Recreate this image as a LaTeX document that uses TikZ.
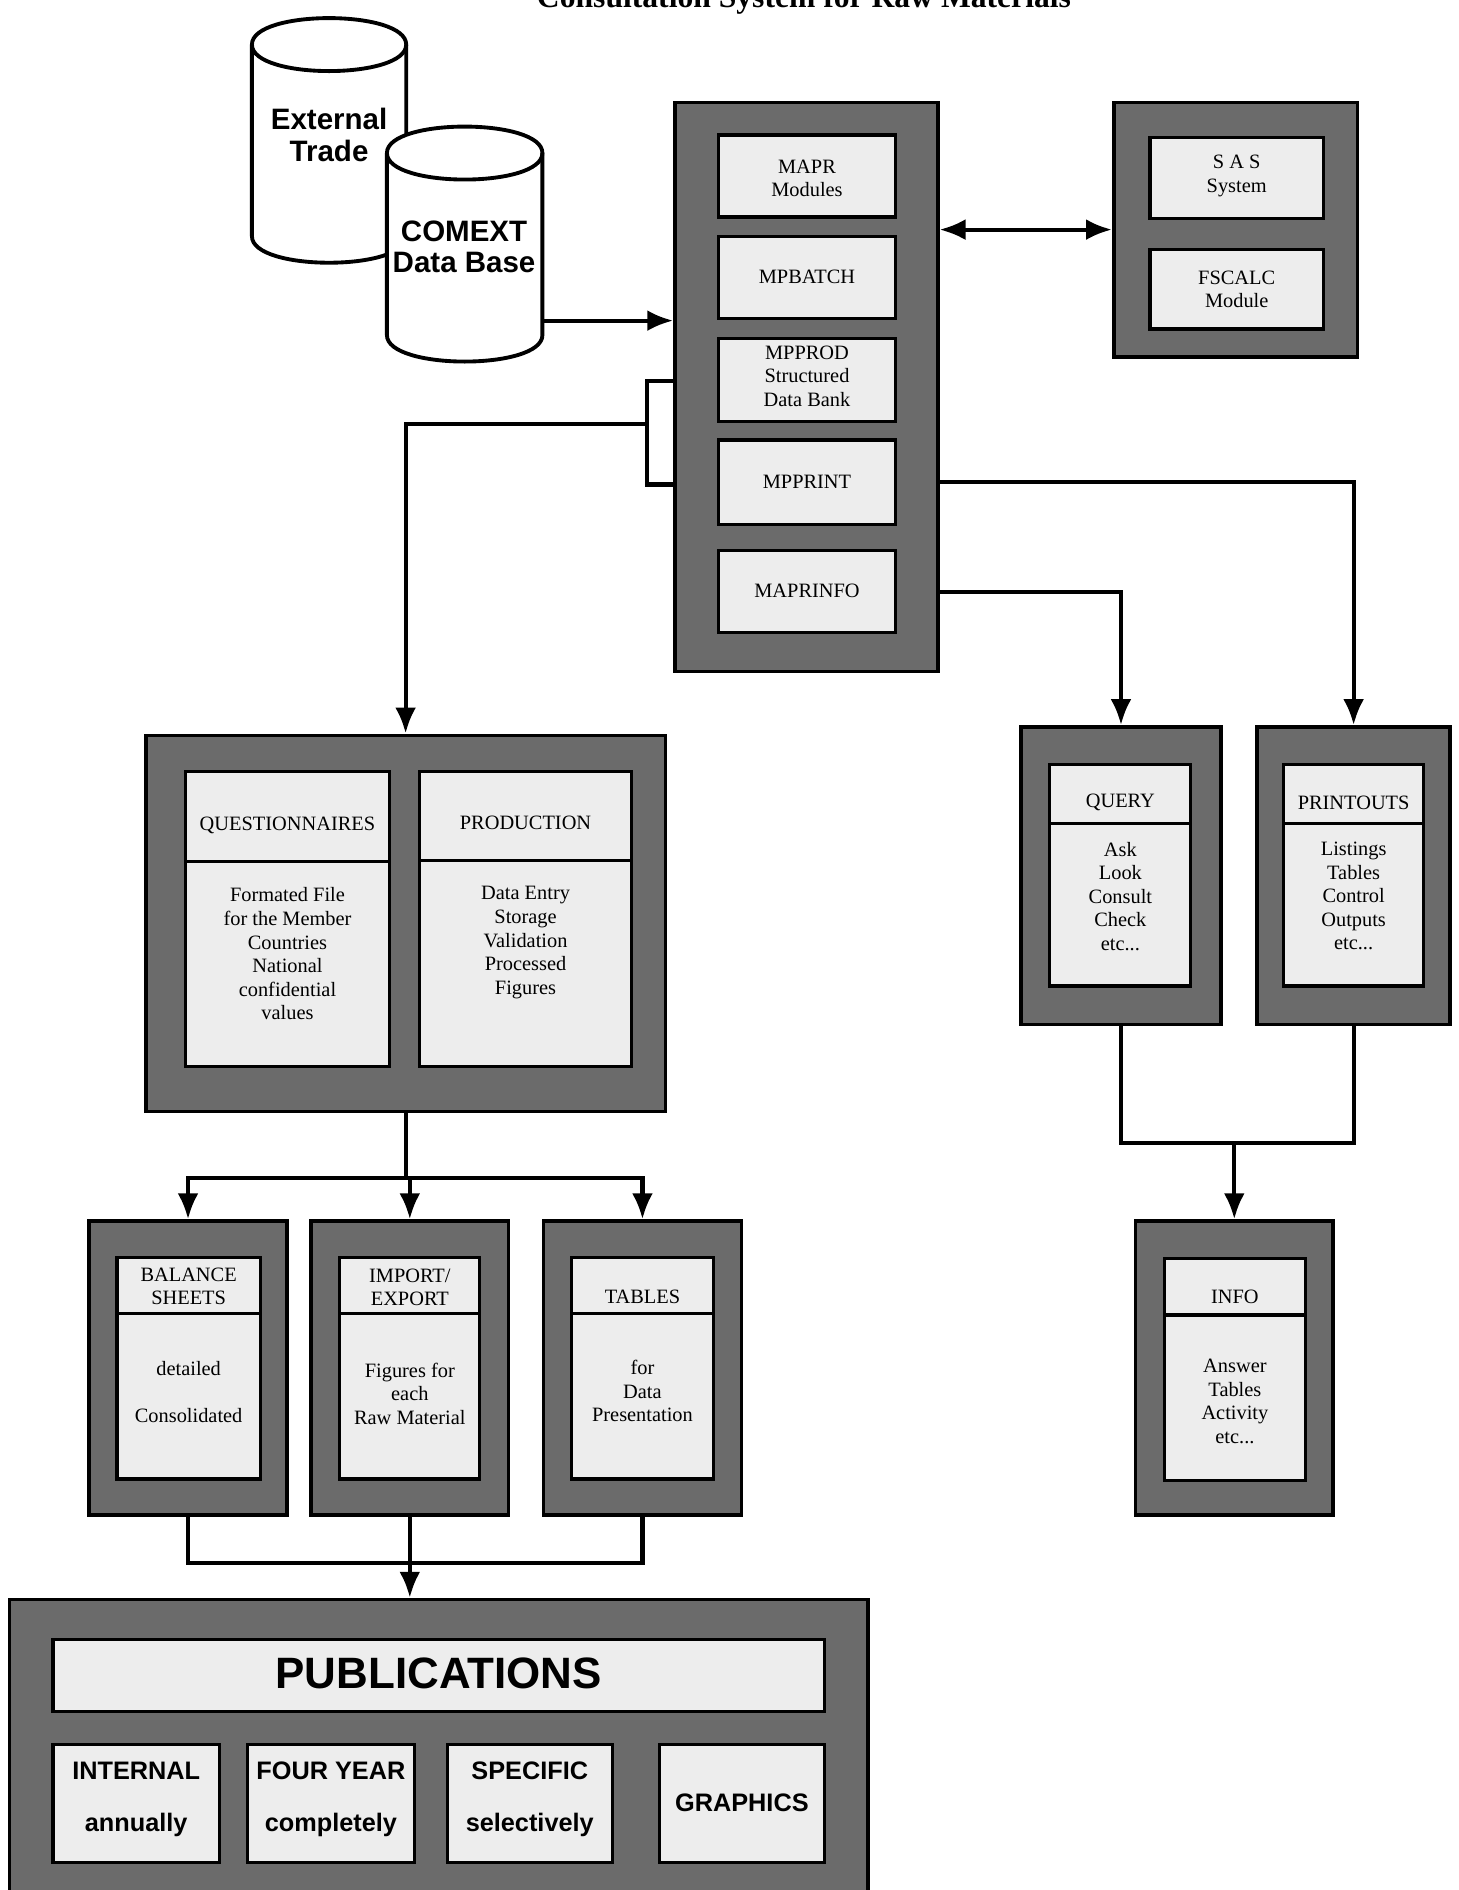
\documentclass[tikz,border=0pt]{standalone}
\usepackage{fontspec}
\setmainfont{Liberation Serif}
\setsansfont{Liberation Sans}
\usetikzlibrary{arrows.meta, fit, positioning}

\newcommand{\boxfont}{\fontsize{5.8}{6.7}\selectfont}
\newcommand{\dbfont}{\sffamily\bfseries\fontsize{8.4}{8.9}\selectfont}
\newcommand{\pubfont}{\sffamily\bfseries\fontsize{7.2}{8}\selectfont}

\tikzset{
  >={Latex[length=2.6mm,width=2.1mm]},
  shellbox/.style={draw=black, line width=1pt, fill=black!58, inner sep=0pt},
  panelbox/.style={draw=black, line width=0.9pt, fill=black!7, inner sep=0pt},
  txt/.style={font=\boxfont, align=center, inner sep=0pt},
  dbtxt/.style={font=\dbfont, align=center, inner sep=0pt},
  pubtxt/.style={font=\pubfont, align=center, inner sep=0pt},
  wire/.style={line width=1.2pt},
  flow/.style={wire, ->},
  dbcyl/.style={draw=black, line width=1.1pt, fill=white},
}

\begin{document}
\begin{tikzpicture}[x=0.12058mm, y=-0.12058mm]
\useasboundingbox (0,0) rectangle (1210,1568);
\fill[white] (0,0) rectangle (1210,1568);

% Title (cut by the top edge)
\node[anchor=base, font=\bfseries\fontsize{9}{10}\selectfont, inner sep=0pt] (title) at (667,6) {Consultation System for Raw Materials};

% Data bases
\filldraw[dbcyl] (209,37) -- (209,196) .. controls (209,225.3) and (337,225.3) .. (337,196) -- (337,37) .. controls (337,7.7) and (209,7.7) .. (209,37) -- cycle;
\draw[dbcyl, fill=none] (209,37) .. controls (209,66.3) and (337,66.3) .. (337,37);
\node[dbtxt] (extdb) at (273,112) {External\\Trade};

\filldraw[dbcyl] (321,127) -- (321,278) .. controls (321,307.3) and (450,307.3) .. (450,278) -- (450,127) .. controls (450,97.7) and (321,97.7) .. (321,127) -- cycle;
\draw[dbcyl, fill=none] (321,127) .. controls (321,156.3) and (450,156.3) .. (450,127);
\node[dbtxt] (comext) at (385,205) {COMEXT\\Data Base};
\coordinate (comextport) at (450,266);

% MAPR column
\node[shellbox, fit={(560,85) (778,557)}] (mapr) {};
\node[panelbox, fit={(596,112) (743,180)}] (modules) {};
\node[txt] (moduleslabel) at (669.5,148) {MAPR\\Modules};
\node[panelbox, fit={(596,196) (743,264)}] (mpbatch) {};
\node[txt] (mpbatchlabel) at (669.5,230) {MPBATCH};
\node[panelbox, fit={(596,281) (743,350)}] (mpprod) {};
\node[txt] (mpprodlabel) at (669.5,312) {MPPROD\\Structured\\Data Bank};
\node[panelbox, fit={(596,365) (743,435)}] (mpprint) {};
\node[txt] (mpprintlabel) at (669.5,400) {MPPRINT};
\node[panelbox, fit={(596,457) (743,525)}] (maprinfo) {};
\node[txt] (maprinfolabel) at (669.5,490) {MAPRINFO};

% SAS block
\node[shellbox, fit={(924,85) (1126,296)}] (sasframe) {};
\node[panelbox, fit={(954,114) (1098,181)}] (sas) {};
\node[txt] (saslabel) at (1026,146) {S A S\\System};
\node[panelbox, fit={(954,207) (1098,273)}] (fscalc) {};
\node[txt] (fscalclabel) at (1026,240) {FSCALC\\Module};

% Questionnaires / production
\node[shellbox, fit={(121,610) (552,922)}] (qp) {};
\node[panelbox, fit={(154,640) (323,715)}] (questhead) {};
\node[panelbox, fit={(154,715) (323,885)}] (questbody) {};
\node[txt] (questtitle) at (238.5,685) {QUESTIONNAIRES};
\node[txt, anchor=north] (questtext) at (238.5,736) {Formated File\\for the Member\\Countries\\National\\confidential\\values};
\node[panelbox, fit={(348,640) (524,714)}] (prodhead) {};
\node[panelbox, fit={(348,714) (524,885)}] (prodbody) {};
\node[txt] (prodtitle) at (436,683) {PRODUCTION};
\node[txt, anchor=north] (prodtext) at (436,735) {Data Entry\\Storage\\Validation\\Processed\\Figures};

% Query / printouts
\node[shellbox, fit={(847,603) (1013,850)}] (query) {};
\node[panelbox, fit={(871,634) (988,683)}] (queryhead) {};
\node[panelbox, fit={(871,683) (988,818)}] (querybody) {};
\node[txt] (querytitle) at (929.5,666) {QUERY};
\node[txt, anchor=north] (querytext) at (929.5,698) {Ask\\Look\\Consult\\Check\\etc...};
\node[shellbox, fit={(1043,603) (1203,850)}] (printouts) {};
\node[panelbox, fit={(1065,634) (1181,683)}] (printhead) {};
\node[panelbox, fit={(1065,683) (1181,818)}] (printbody) {};
\node[txt] (printtitle) at (1123,666) {PRINTOUTS};
\node[txt, anchor=north] (printtext) at (1123,698) {Listings\\Tables\\Control\\Outputs\\etc...};

% Info
\node[shellbox, fit={(942,1013) (1106,1257)}] (info) {};
\node[panelbox, fit={(966,1044) (1083,1091)}] (infohead) {};
\node[panelbox, fit={(966,1091) (1083,1228)}] (infobody) {};
\node[txt] (infotitle) at (1024.5,1076) {INFO};
\node[txt, anchor=north] (infotext) at (1024.5,1127) {Answer\\Tables\\Activity\\etc...};

% Balance sheets, import/export, tables
\node[shellbox, fit={(74,1013) (238,1257)}] (bal) {};
\node[panelbox, fit={(97,1043) (216,1090)}] (balhead) {};
\node[panelbox, fit={(97,1090) (216,1227)}] (balbody) {};
\node[txt] (baltitle) at (156.5,1067) {BALANCE\\SHEETS};
\node[txt, anchor=north] (baltext) at (156.5,1129) {detailed\\[6.7pt]Consolidated};

\node[shellbox, fit={(258,1013) (422,1257)}] (impexp) {};
\node[panelbox, fit={(282,1043) (398,1090)}] (impexphead) {};
\node[panelbox, fit={(282,1090) (398,1227)}] (impexpbody) {};
\node[txt] (impexptitle) at (340,1068) {IMPORT/\\EXPORT};
\node[txt, anchor=north] (impexptext) at (340,1130) {Figures for\\each\\Raw Material};

\node[shellbox, fit={(451,1013) (615,1257)}] (tables) {};
\node[panelbox, fit={(474,1043) (592,1090)}] (tableshead) {};
\node[panelbox, fit={(474,1090) (592,1227)}] (tablesbody) {};
\node[txt] (tablestitle) at (533,1076) {TABLES};
\node[txt, anchor=north] (tablestext) at (533,1128) {for\\Data\\Presentation};

% Publications (runs past the bottom edge)
\node[shellbox, fit={(8,1327) (720,1600)}] (pub) {};
\node[panelbox, fit={(44,1360) (684,1420)}] (pubtitle) {};
\node[font=\sffamily\bfseries\fontsize{12.5}{14}\selectfont, inner sep=0pt] (pubtitlelabel) at (364,1388) {PUBLICATIONS};
\node[panelbox, fit={(44,1447) (182,1545)}] (internal) {};
\node[pubtxt] (internalname) at (113,1469) {INTERNAL};
\node[pubtxt] (internalnote) at (113,1514) {annually};
\node[panelbox, fit={(205,1447) (344,1545)}] (fouryear) {};
\node[pubtxt] (fouryearname) at (274.5,1469) {FOUR YEAR};
\node[pubtxt] (fouryearnote) at (274.5,1514) {completely};
\node[panelbox, fit={(371,1447) (508,1545)}] (specific) {};
\node[pubtxt] (specificname) at (439.5,1469) {SPECIFIC};
\node[pubtxt] (specificnote) at (439.5,1514) {selectively};
\node[panelbox, fit={(547,1447) (684,1545)}] (graphics) {};
\node[pubtxt] (graphicsname) at (615.5,1496) {GRAPHICS};

% Connectors
\draw[flow] (comextport) -- (comextport -| mapr.west);
\draw[flow, <->] (mapr.east |- sasframe.west) -- (sasframe.west);

\coordinate (brtop) at (537,316);
\coordinate (brbot) at (537,402);
\coordinate (brmid) at (537,352);
\draw[wire] (brtop -| mapr.west) -- (brtop) -- (brbot) -- (brbot -| mapr.west);
\draw[flow] (brmid) -| (qp.north);

\draw[flow] (mpprint.east -| mapr.east) -| (printouts.north);
\draw[flow] (maprinfo.east -| mapr.east) -| (query.north);

\path (qp.south) ++(0,54) coordinate (qpsplit);
\draw[wire] (qp.south) -- (qpsplit);
\draw[flow] (qpsplit) -| (bal.north);
\draw[flow] (qpsplit) -| (tables.north);
\draw[flow] (qpsplit -| impexp.north) -- (impexp.north);

\path (bal.south) ++(0,38) coordinate (balmerge);
\draw[wire] (bal.south) |- (tables.south |- balmerge) -- (tables.south);
\draw[flow] (impexp.south) -- (impexp.south |- pub.north);

\path (query.south) ++(0,97) coordinate (answerjoin);
\draw[wire] (query.south) |- (printouts.south |- answerjoin) -- (printouts.south);
\draw[flow] (answerjoin -| info.north) -- (info.north);

\end{tikzpicture}
\end{document}
